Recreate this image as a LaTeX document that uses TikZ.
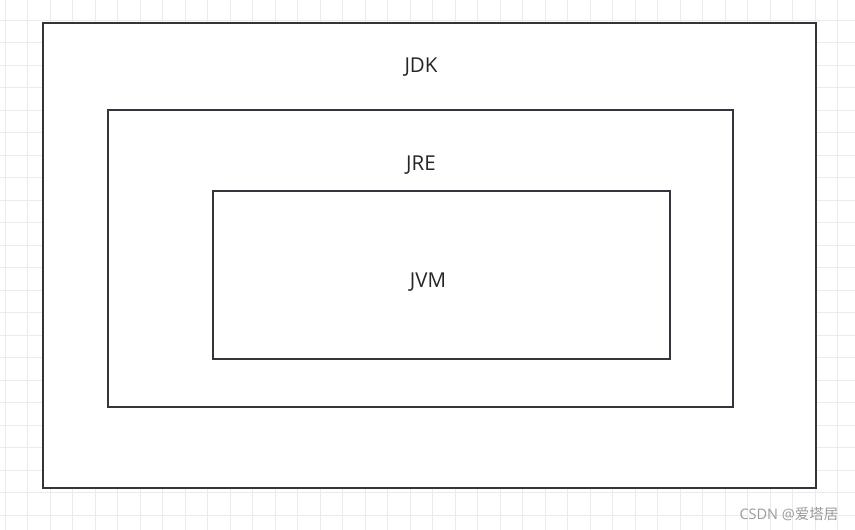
\documentclass[tikz,border=0pt]{standalone}
\usepackage{fontspec}
\setmainfont{Open Sans}
\newfontfamily\cjk{Noto Sans CJK SC}
\usepackage{tikz}
\usetikzlibrary{positioning}
\definecolor{edgegray}{HTML}{30363C}
\definecolor{gridgray}{HTML}{EBEBEB}
\definecolor{markgray}{HTML}{9A9A9A}
\tikzset{
	layer/.append style={
		draw=edgegray,
		line width=2pt,
		inner sep=0pt,
		outer sep=0pt,
	},
	labe/.append style={
		align = center,
		text=black!85,
		font={\fontsize{20.5}{24}\selectfont}
	},
	wmark/.append style={
		text=markgray,
		font={\fontsize{14.5}{17}\selectfont}
	}
}

\begin{document}
\begin{tikzpicture}[x=1pt, y=-1pt]
\useasboundingbox (0,0) rectangle (855,530);

% background grid
\foreach \gx in {0,...,37} {
	\draw[gridgray, line width=1pt] (5+22.5*\gx,0) -- (5+22.5*\gx,530);
}
\foreach \gy in {0,...,23} {
	\draw[gridgray, line width=1pt] (0,20+22.5*\gy) -- (855,20+22.5*\gy);
}

\node(jdk)[layer, fill=white, minimum width=773pt, minimum height=465pt] at (429.5,255.5) {};
\node(jre)[layer, minimum width=625pt, minimum height=297pt] at (420.5,258.5) {};
\node(jvm)[layer, minimum width=457pt, minimum height=168pt] at (441.5,275) {};

\node(jdklabel)[labe] at (421,67) {JDK};
\node(jrelabel)[labe] at (421,165) {JRE};
\node(jvmlabel)[labe] at (428,282) {JVM};

\node(credit)[wmark, anchor=east] at (842,514) {CSDN @{\cjk 爱塔居}};

\end{tikzpicture}
\end{document}
